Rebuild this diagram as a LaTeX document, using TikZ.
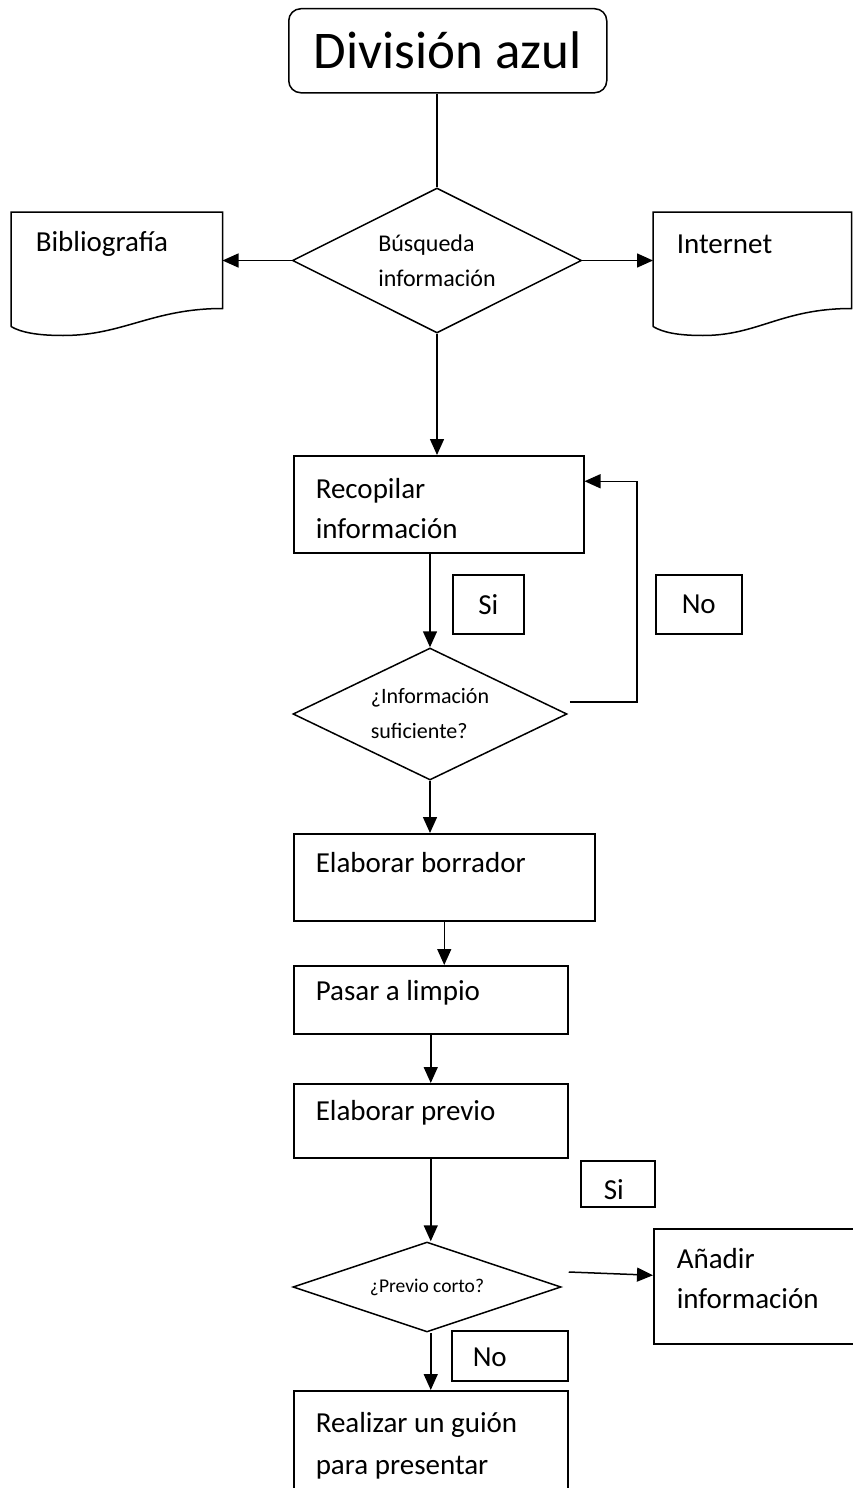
\documentclass[tikz,border=0pt]{standalone}
\usepackage{fontspec}
\setmainfont{Carlito}
\usetikzlibrary{shapes.geometric,arrows.meta}
\begin{document}
\begin{tikzpicture}[x=1pt,y=-1pt,line width=1.5pt,
  mainfont/.style={font=\fontsize{29}{40}\selectfont},
  box/.style={draw,rectangle,inner sep=0pt,anchor=north west},
  ghost/.style={rectangle,inner sep=0pt,anchor=north west},
  txt/.style={mainfont,inner sep=0pt,anchor=west,align=left},
  dia/.style={draw,diamond,aspect=2,inner sep=0pt,font=\fontsize{22}{35}\selectfont,align=left},
  lab/.style={draw,rectangle,inner sep=0pt,anchor=north west,mainfont},
  arr/.style={-{Triangle[length=16pt,width=14pt]}}]
\clip (0,0) rectangle (853,1488);
\useasboundingbox (0,0) rectangle (853,1488);

% title
\node[box,rounded corners=12pt,minimum width=318pt,minimum height=84pt,font=\fontsize{53}{60}\selectfont] (title) at (288,8) {División azul};

% diamond 1
\node[dia,minimum width=289pt,minimum height=145pt,font=\fontsize{24}{35}\selectfont] (d1) at (437,260.5) {Búsqueda\\información};

% documents
\node[ghost,minimum width=210pt,minimum height=122pt] (bib) at (11,212) {};
\draw ([yshift=9pt]bib.south west) -- (bib.north west) -- (bib.north east) -- ([yshift=27pt]bib.south east)
  .. controls +(-70,0) and +(60,0) .. ([xshift=52pt]bib.south west)
  .. controls +(-25,0) and +(10,6) .. ([yshift=9pt]bib.south west);
\node[txt] (bibt) at (35,244) {Bibliografía};

\node[ghost,minimum width=197pt,minimum height=122pt] (net) at (653,212) {};
\draw ([yshift=9pt]net.south west) -- (net.north west) -- (net.north east) -- ([yshift=27pt]net.south east)
  .. controls +(-70,0) and +(55,0) .. ([xshift=50pt]net.south west)
  .. controls +(-25,0) and +(10,6) .. ([yshift=9pt]net.south west);
\node[txt] (nett) at (676,244) {Internet};

% recopilar
\node[box,minimum width=290pt,minimum height=97pt] (rec) at (293,455) {};
\node[txt] (rect) at (315,509) {Recopilar\\información};

% diamond 2
\node[dia,minimum width=274pt,minimum height=132pt] (d2) at (430,714) {¿Información\\suficiente?};

\node[lab,minimum width=71pt,minimum height=59pt] (si1) at (452,574) {Si};
\node[lab,minimum width=86pt,minimum height=59pt] (no1) at (655,574) {No};

% elaborar borrador
\node[box,minimum width=301pt,minimum height=87pt] (eb) at (293,833) {};
\node[txt] (ebt) at (315,863) {Elaborar borrador};

\node[box,minimum width=274pt,minimum height=68pt] (pl) at (293,965) {};
\node[txt] (plt) at (315,993) {Pasar a limpio};

\node[box,minimum width=274pt,minimum height=74pt] (ep) at (293,1083) {};
\node[txt] (ept) at (315,1113) {Elaborar previo};

% diamond 3
\node[dia,aspect=3,minimum width=268pt,minimum height=90pt,font=\fontsize{19.5}{24}\selectfont] (d3) at (427,1287) {¿Previo corto?};

\node[lab,minimum width=74pt,minimum height=46pt] (si2) at (580,1160) {};
\node[txt] (si2t) at (603,1190) {Si};

\node[box,minimum width=200pt,minimum height=115pt] (add) at (653,1228) {};
\node[txt] (addt) at (676,1279) {Añadir\\información};

\node[lab,minimum width=116pt,minimum height=50pt] (no2) at (451,1330) {};
\node[txt] (no2t) at (472,1357) {No};

\node[box,minimum width=274pt,minimum height=110pt] (real) at (293,1390) {};
\node[txt,font=\fontsize{29}{42}\selectfont] (realt) at (315,1446) {Realizar un guión\\para presentar};

% connectors
\draw (title.south -| d1.north) -- (d1.north);
\draw[arr] (d1.west) -- (d1.west -| bib.east);
\draw[arr] (d1.east) -- (d1.east -| net.west);
\draw[arr] (d1.south) -- (d1.south |- rec.north);
\draw[arr] (d2.north |- rec.south) -- (d2.north);
\draw[arr] ([xshift=2pt,yshift=12pt]d2.east) -- ++(67,0) |- ([yshift=23pt]rec.east);
\draw[arr] (d2.south) -- (d2.south |- eb.north);
\draw[arr] (eb.south) -- (eb.south |- pl.north);
\draw[arr] (pl.south) -- (pl.south |- ep.north);
\draw[arr] (ep.south) -- (ep.south |- d3.north);
\draw[arr] ([xshift=7pt,yshift=15pt]d3.east) -- ([yshift=11pt]add.west);
\draw[arr] (ep.south |- d3.south) -- (ep.south |- real.north);
\end{tikzpicture}
\end{document}
